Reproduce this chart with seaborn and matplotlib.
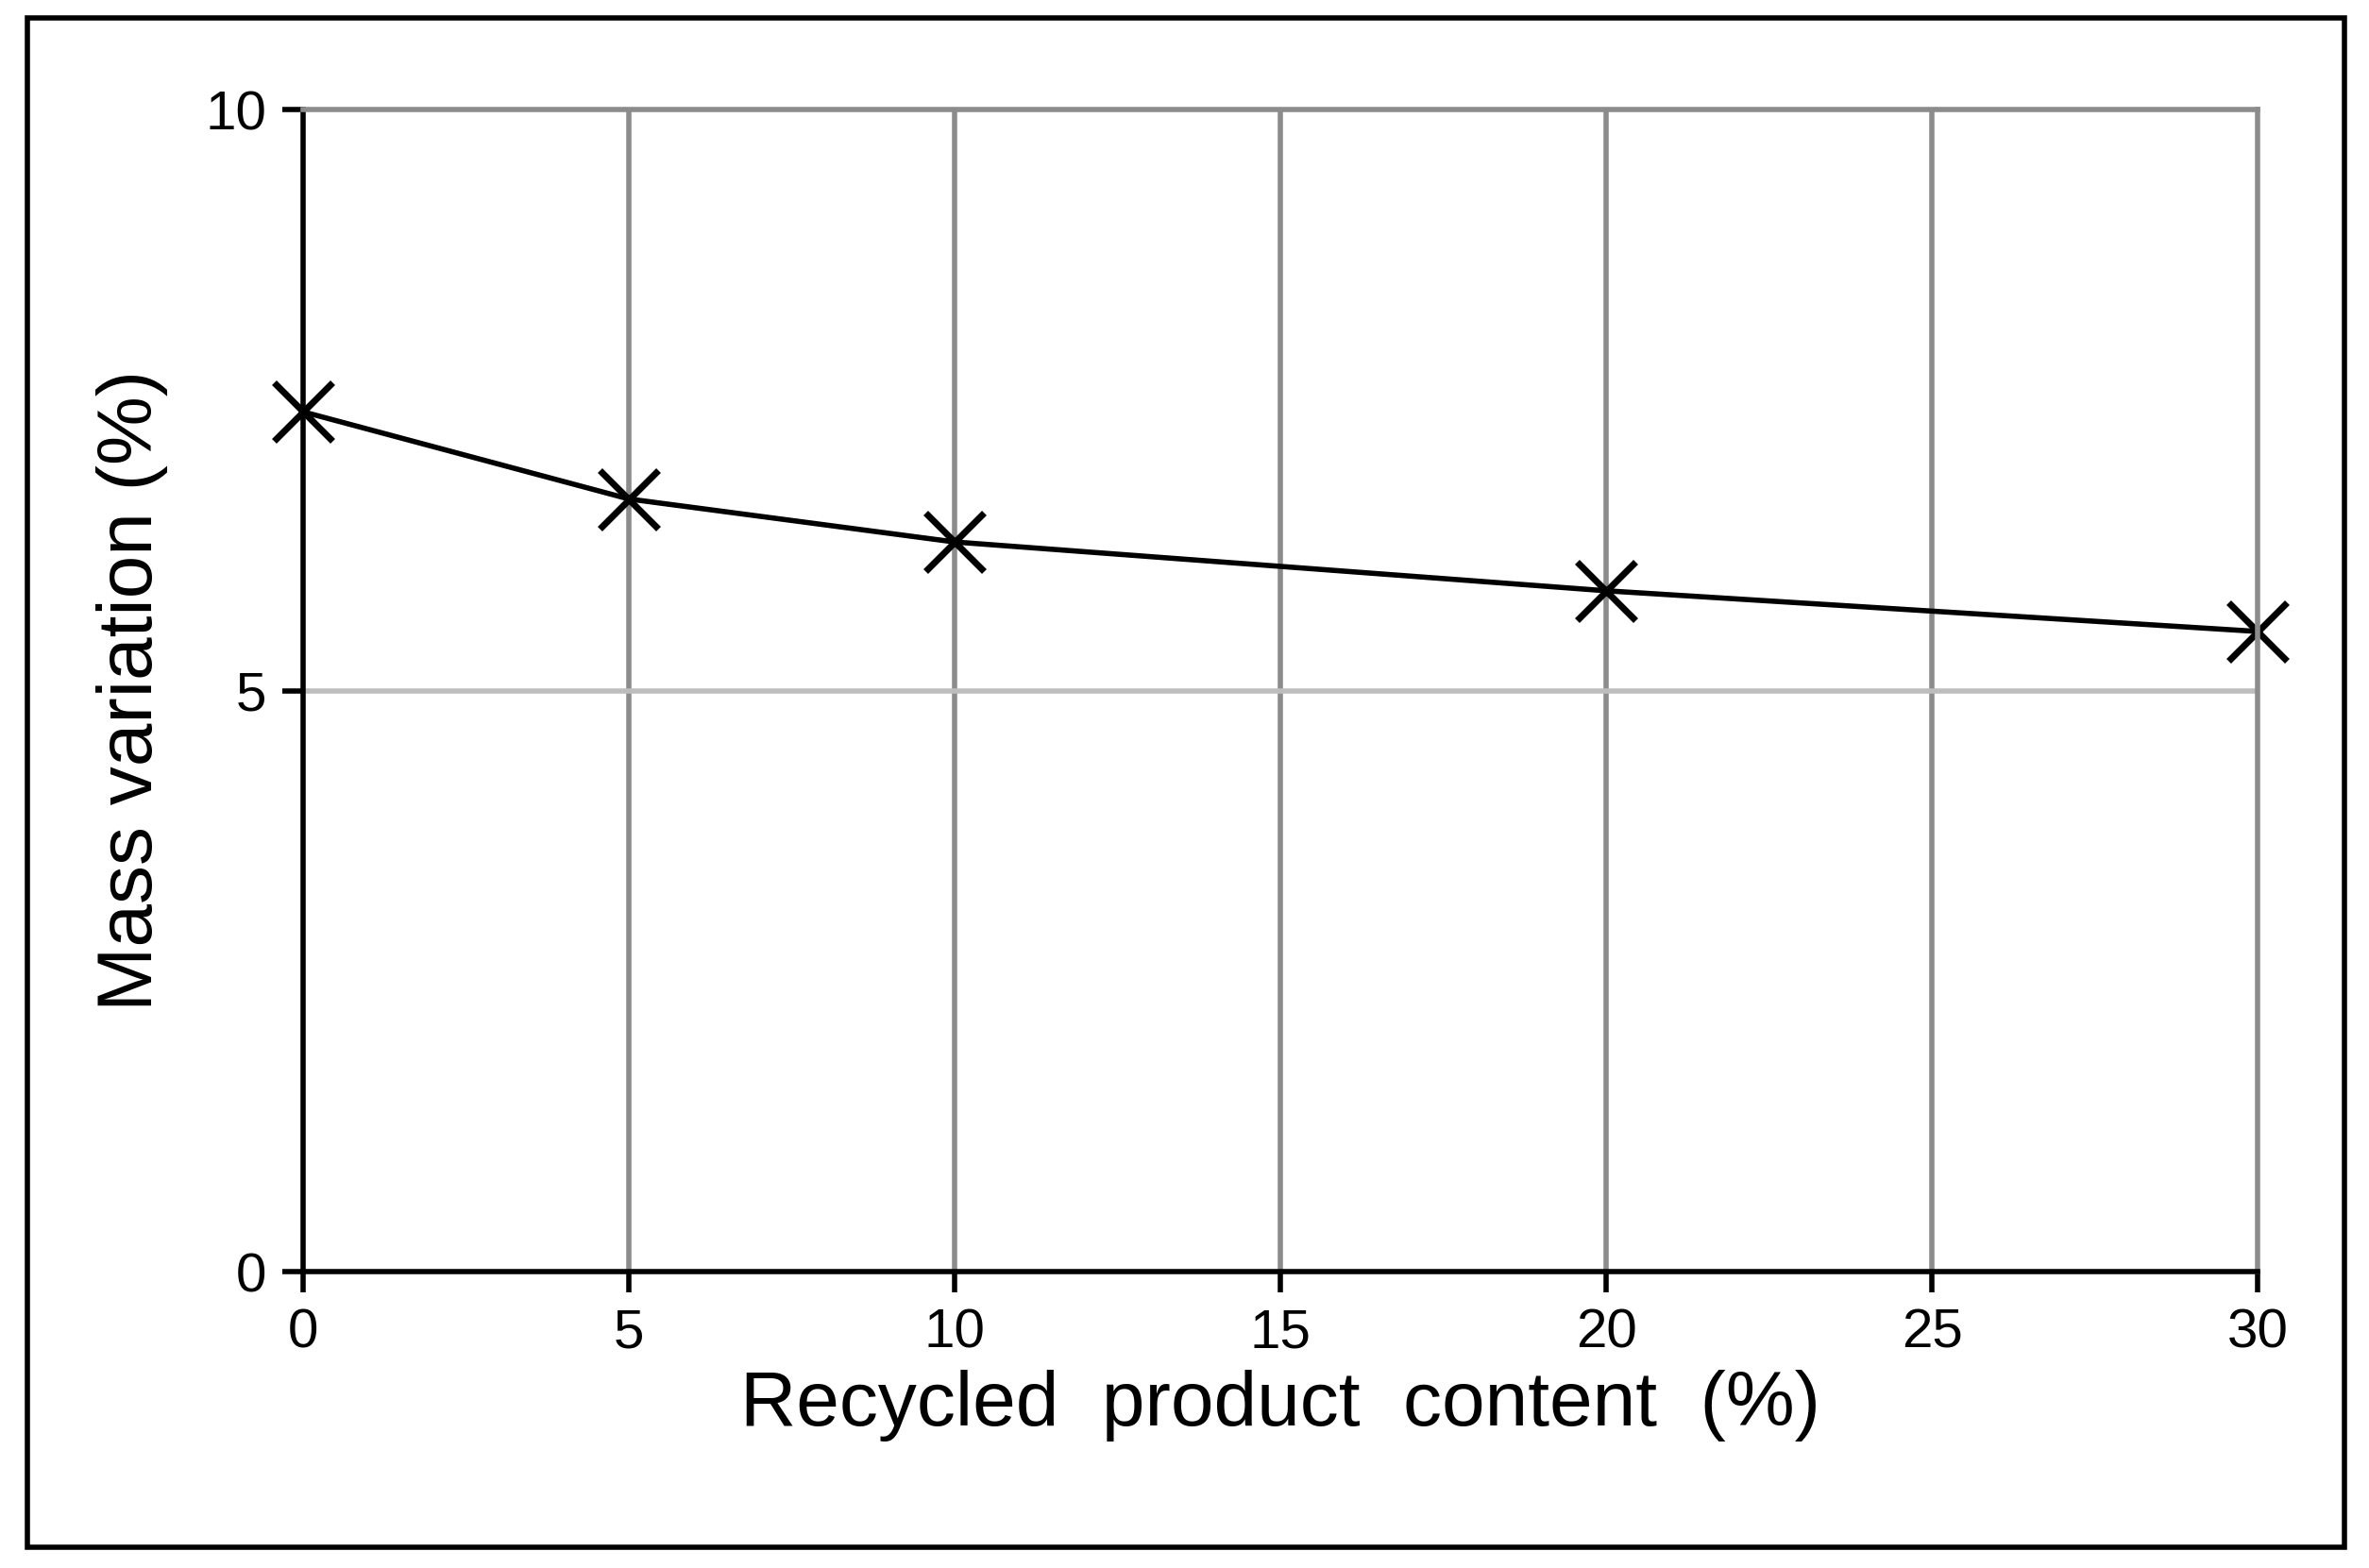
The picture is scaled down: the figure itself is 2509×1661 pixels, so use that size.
import matplotlib
matplotlib.use("Agg")
import matplotlib.pyplot as plt
import seaborn as sns
import pandas as pd
from matplotlib.patches import Rectangle

content = [0, 5, 10, 20, 30]
mass_variation = [7.40, 6.65, 6.28, 5.86, 5.51]
df = pd.DataFrame({"x": content, "y": mass_variation})

sns.set_theme(style="white")
plt.rcParams['font.family'] = ['Liberation Sans', 'DejaVu Sans']

fig = plt.figure(figsize=(12.545, 8.305), dpi=200)
ax = fig.add_axes([0.128, 0.189, 0.825, 0.741])

sns.lineplot(data=df, x="x", y="y", ax=ax, color="black", linewidth=2,
             marker="x", markersize=22, markeredgewidth=2.5, markeredgecolor="black")
for ln in ax.lines:
    ln.set_clip_on(False)

ax.set_xlim(0, 30)
ax.set_ylim(0, 10)
ax.set_xticks([0, 5, 10, 15, 20, 25, 30])
ax.set_yticks([0, 5, 10])
for xv in [5, 10, 15, 20, 25]:
    ax.axvline(xv, color="#8c8c8c", lw=2, zorder=0)
ax.axhline(5, color="#bdbdbd", lw=2, zorder=0)
for s in ["top", "right"]:
    ax.spines[s].set_color("#8c8c8c")
    ax.spines[s].set_linewidth(2)
for s in ["left", "bottom"]:
    ax.spines[s].set_color("black")
    ax.spines[s].set_linewidth(2)
ax.tick_params(direction="out", length=8, width=2, color="black", labelcolor="black",
               labelsize=21, pad=6, bottom=True, left=True)
ax.set_xlabel("Recycled  product  content  (%)", fontsize=29.5, labelpad=4, color="black")
ax.set_ylabel("Mass variation (%)", fontsize=29.5, labelpad=14, color="black")

fig.patches.append(Rectangle((0.0115, 0.0135), 0.978, 0.975, transform=fig.transFigure,
                             fill=False, edgecolor="black", linewidth=2))
fig.savefig("out.png", dpi=200)
